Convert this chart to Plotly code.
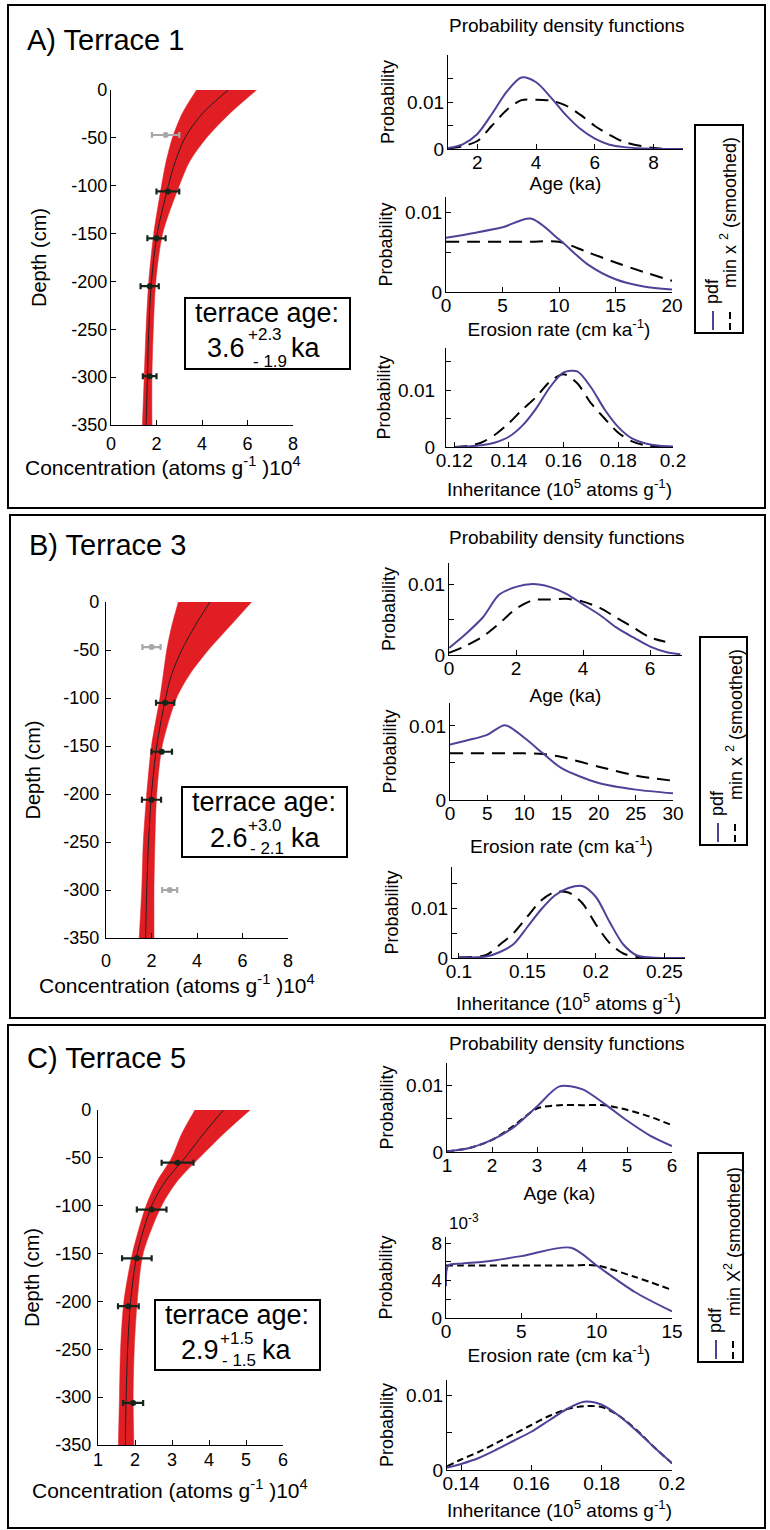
import plotly.graph_objects as go

W, H = 770, 1530
FONT = "Liberation Sans, Arial, Helvetica, sans-serif"
PURPLE = "#4c4398"
RED = "#e01e24"

# ---------------- depth profiles (concentration in 10^4 atoms/g) ----------------
model_depth = [0, -25, -50, -75, -100, -150, -200, -250, -300, -350]

a_model = [5.15, 4.0, 3.25, 2.82, 2.52, 2.03, 1.78, 1.66, 1.6, 1.54]
a_band_low = [3.76, 3.12, 2.7, 2.42, 2.22, 1.88, 1.66, 1.54, 1.46, 1.38]
a_band_high = [6.4, 5.2, 4.2, 3.45, 3.0, 2.27, 1.97, 1.86, 1.8, 1.8]
a_obs_depth = [-47, -106, -155, -205, -299]
a_obs_conc = [2.4, 2.5, 2.0, 1.7, 1.7]
a_obs_err = [0.6, 0.5, 0.4, 0.4, 0.3]
a_obs_used = [0, 1, 1, 1, 1]

b_model = [4.57, 3.91, 3.33, 2.89, 2.62, 2.23, 2.0, 1.87, 1.79, 1.74]
b_band_low = [3.18, 2.89, 2.67, 2.52, 2.37, 2.0, 1.79, 1.64, 1.57, 1.46]
b_band_high = [6.4, 5.45, 4.5, 3.69, 3.1, 2.47, 2.23, 2.15, 2.11, 2.11]
b_obs_depth = [-47, -105, -156, -206, -300]
b_obs_conc = [2.0, 2.6, 2.45, 2.0, 2.8]
b_obs_err = [0.4, 0.4, 0.45, 0.42, 0.33]
b_obs_used = [0, 1, 1, 1, 0]

c_model = [4.39, 3.85, 3.35, 2.81, 2.45, 2.06, 1.88, 1.8, 1.76, 1.74]
c_band_low = [3.62, 3.26, 2.99, 2.59, 2.3, 1.93, 1.7, 1.61, 1.58, 1.55]
c_band_high = [5.11, 4.39, 3.74, 3.13, 2.72, 2.22, 2.06, 1.98, 1.95, 1.97]
c_obs_depth = [-55, -104, -155, -205, -306]
c_obs_conc = [3.15, 2.45, 2.05, 1.82, 1.95]
c_obs_err = [0.43, 0.4, 0.4, 0.28, 0.27]
c_obs_used = [1, 1, 1, 1, 1]

# ---------------- probability density functions ----------------
a_age_x = [1, 1.5, 2, 2.5, 3, 3.5, 4, 4.5, 5, 5.5, 6, 6.5, 7, 8, 9]
a_age_pdf = [0.0002, 0.001, 0.0032, 0.0075, 0.0122, 0.0152, 0.0142, 0.011, 0.0073, 0.0043, 0.0022, 0.0009, 0.0004, 0.00005, 0]
a_age_chi = [0.0001, 0.0006, 0.0017, 0.005, 0.0083, 0.0104, 0.0105, 0.0103, 0.0093, 0.0073, 0.0049, 0.003, 0.0015, 0.0002, 0]

a_ero_x = [0, 2.5, 5, 7.5, 10, 12.5, 15, 17.5, 20]
a_ero_pdf = [0.0068, 0.0074, 0.0081, 0.0092, 0.0066, 0.0035, 0.0016, 0.0007, 0.0003]
a_ero_chi = [0.0063, 0.0063, 0.0063, 0.0063, 0.0063, 0.005, 0.0037, 0.0025, 0.0014]

a_inh_x = [0.12, 0.125, 0.13, 0.135, 0.14, 0.145, 0.15, 0.155, 0.16, 0.165, 0.17, 0.175, 0.18, 0.185, 0.19, 0.195, 0.2]
a_inh_pdf = [0, 0.0001, 0.0003, 0.0008, 0.0018, 0.0038, 0.0068, 0.0105, 0.0131, 0.0133, 0.0105, 0.0066, 0.0035, 0.0015, 0.0006, 0.0002, 0.0001]
a_inh_chi = [0, 0.0002, 0.0008, 0.0022, 0.0042, 0.0066, 0.0088, 0.0115, 0.0128, 0.0112, 0.0077, 0.005, 0.0025, 0.001, 0.0003, 0.0001, 0]

b_age_x = [0, 0.5, 1, 1.5, 2, 2.5, 3, 3.5, 4, 4.5, 5, 5.5, 6, 6.5, 6.9]
b_age_pdf = [0.001, 0.003, 0.0053, 0.0086, 0.0097, 0.0101, 0.0097, 0.0087, 0.0072, 0.0057, 0.0039, 0.0025, 0.0012, 0.0004, 0.0001]
b_age_chi_x = [0, 0.5, 1, 1.5, 2, 2.5, 3, 3.5, 4, 4.5, 5, 5.5, 6, 6.45]
b_age_chi = [0.0003, 0.0013, 0.0026, 0.0045, 0.0066, 0.0078, 0.0079, 0.008, 0.0076, 0.0067, 0.0053, 0.0039, 0.0025, 0.0019]

b_ero_x = [0, 2.5, 5, 7.4, 10, 12.5, 15, 20, 25, 30]
b_ero_pdf = [0.0075, 0.0081, 0.0088, 0.0101, 0.0084, 0.0063, 0.0043, 0.0023, 0.0014, 0.0009]
b_ero_chi = [0.0063, 0.0063, 0.0063, 0.0063, 0.0063, 0.0062, 0.0058, 0.0045, 0.0033, 0.0026]

b_inh_x = [0.1, 0.12, 0.13, 0.14, 0.15, 0.16, 0.17, 0.18, 0.19, 0.2, 0.21, 0.22, 0.23, 0.24, 0.265]
b_inh_pdf = [0.0001, 0.0003, 0.0012, 0.0028, 0.0062, 0.0097, 0.0125, 0.014, 0.0144, 0.0122, 0.0072, 0.0027, 0.0005, 0.0001, 0]
b_inh_chi = [0.0001, 0.0006, 0.0027, 0.005, 0.0083, 0.0115, 0.0132, 0.0131, 0.011, 0.0067, 0.003, 0.0009, 0.0002, 0, 0]

c_age_x = [1, 1.5, 2, 2.5, 3, 3.5, 4, 4.5, 5, 5.5, 6]
c_age_pdf = [0.0001, 0.0006, 0.0018, 0.0038, 0.0068, 0.0098, 0.0094, 0.0072, 0.0047, 0.0025, 0.0009]
c_age_chi = [0.0001, 0.0006, 0.0018, 0.004, 0.0065, 0.007, 0.007, 0.007, 0.0063, 0.0053, 0.004]

c_ero_x = [0, 0.15, 1, 2.5, 5, 8.3, 10, 12.5, 15]
c_ero_pdf = [3.4, 5.6, 5.8, 6.0, 6.6, 7.5, 5.6, 2.8, 0.7]      # x 10^-3
c_ero_chi = [5.6, 5.6, 5.6, 5.6, 5.6, 5.6, 5.6, 4.4, 3.0]      # x 10^-3

c_inh_x = [0.136, 0.14, 0.145, 0.15, 0.155, 0.16, 0.165, 0.17, 0.175, 0.18, 0.185, 0.19, 0.195, 0.2]
c_inh_pdf = [0.0003, 0.0008, 0.0016, 0.0027, 0.0039, 0.0051, 0.0066, 0.0081, 0.0091, 0.0087, 0.0072, 0.0052, 0.003, 0.0009]
c_inh_chi = [0.0005, 0.0014, 0.0024, 0.0036, 0.0048, 0.006, 0.0072, 0.0081, 0.0085, 0.0084, 0.0072, 0.0053, 0.003, 0.0009]

panel_titles = ["A) Terrace 1", "B) Terrace 3", "C) Terrace 5"]
ages = [("3.6", "+2.3", "- 1.9"), ("2.6", "+3.0", "- 2.1"), ("2.9", "+1.5", "- 1.5")]

prob_ticks = [0, 0.01]
prob_ticktext = ["0", "0.01"]
prob_minor = [0.005, 0.015]


def px(x):
    return x / W


def py(y):
    return 1 - y / H


fig = go.Figure()
layout = {}
annotations = []
shapes = []
counter = [0]


def base_axis(size):
    return dict(showline=True, linecolor="black", linewidth=1.3, mirror=False,
                ticks="inside", ticklen=5, tickcolor="black", tickwidth=1.2,
                showgrid=False, zeroline=False, fixedrange=True, automargin=False,
                tickfont=dict(family=FONT, size=size, color="black"))


def add_axes(xdom, ydom, xrange, yrange, xt, xtt, yt, ytt, yminor=None,
             xtitle=None, xso=5, ytitle=None, yso=5, xlso=-4, ylso=-1,
             xtsize=19, ytsize=18, tsize=19):
    counter[0] += 1
    k = "" if counter[0] == 1 else str(counter[0])
    xa = base_axis(tsize)
    xa.update(domain=[px(xdom[0]), px(xdom[1])], range=xrange, anchor="y" + k,
              tickmode="array", tickvals=xt, ticktext=xtt, ticklabelstandoff=xlso)
    ya = base_axis(tsize)
    ya.update(domain=[py(ydom[1]), py(ydom[0])], range=yrange, anchor="x" + k,
              tickmode="array", tickvals=yt, ticktext=ytt, ticklabelstandoff=ylso)
    if yminor:
        ya["minor"] = dict(tickmode="array", tickvals=yminor, ticks="inside", ticklen=5,
                           tickcolor="black", tickwidth=1.2, showgrid=False)
    if xtitle:
        xa["title"] = dict(text=xtitle, standoff=xso, font=dict(family=FONT, size=xtsize, color="black"))
    if ytitle:
        ya["title"] = dict(text=ytitle, standoff=yso, font=dict(family=FONT, size=ytsize, color="black"))
    layout["xaxis" + k] = xa
    layout["yaxis" + k] = ya
    return "x" + k, "y" + k


def ann(x, y, text, size, xanchor="center", yanchor="middle", angle=0):
    annotations.append(dict(x=px(x), y=py(y), xref="paper", yref="paper", text=text,
                            showarrow=False, xanchor=xanchor, yanchor=yanchor,
                            textangle=angle, font=dict(family=FONT, size=size, color="black")))


def rect(x0, y0, x1, y1, width=2):
    shapes.append(dict(type="rect", xref="paper", yref="paper", x0=px(x0), x1=px(x1),
                       y0=py(y1), y1=py(y0), line=dict(color="black", width=width),
                       fillcolor="rgba(0,0,0,0)"))


def profile(xa, ya, low, high, model, od, oc, oe, used):
    fig.add_trace(go.Scatter(x=low, y=model_depth, xaxis=xa, yaxis=ya, mode="lines",
                             line=dict(color=RED, width=0.5, shape="spline", smoothing=0.8),
                             showlegend=False, hoverinfo="skip"))
    fig.add_trace(go.Scatter(x=high, y=model_depth, xaxis=xa, yaxis=ya, mode="lines",
                             fill="tonextx", fillcolor=RED,
                             line=dict(color=RED, width=0.5, shape="spline", smoothing=0.8),
                             showlegend=False, hoverinfo="skip"))
    fig.add_trace(go.Scatter(x=model, y=model_depth, xaxis=xa, yaxis=ya, mode="lines",
                             line=dict(color="#202020", width=1, shape="spline", smoothing=0.8),
                             showlegend=False))
    for flag, col in ((0, "#a8a8a8"), (1, "#14261a")):
        xs = [c for c, u in zip(oc, used) if u == flag]
        ys = [d for d, u in zip(od, used) if u == flag]
        es = [e for e, u in zip(oe, used) if u == flag]
        if xs:
            fig.add_trace(go.Scatter(x=xs, y=ys, xaxis=xa, yaxis=ya, mode="markers",
                                     marker=dict(color=col, size=6),
                                     error_x=dict(type="data", array=es, color=col,
                                                  thickness=2.2, width=3),
                                     showlegend=False))


def pdfplot(xa, ya, x, pdf, chi, chix=None, dash="13px,8px"):
    fig.add_trace(go.Scatter(x=chix if chix is not None else x, y=chi, xaxis=xa, yaxis=ya,
                             mode="lines", name="min chi2 (smoothed)",
                             line=dict(color="black", width=2, dash=dash, shape="spline", smoothing=0.8),
                             showlegend=False))
    fig.add_trace(go.Scatter(x=x, y=pdf, xaxis=xa, yaxis=ya, mode="lines", name="pdf",
                             line=dict(color=PURPLE, width=2, shape="spline", smoothing=0.8),
                             showlegend=False))


def legend_box(x0, y0, x1, y1, chi_text):
    rect(x0, y0, x1, y1, 2)
    c1, c2 = x0 + 18, x0 + 35
    shapes.append(dict(type="line", xref="paper", yref="paper", x0=px(c1), x1=px(c1),
                       y0=py(y1 - 3), y1=py(y1 - 22), line=dict(color=PURPLE, width=2)))
    for s0, s1 in ((y1 - 3, y1 - 10), (y1 - 14, y1 - 21)):
        shapes.append(dict(type="line", xref="paper", yref="paper", x0=px(c2), x1=px(c2),
                           y0=py(s0), y1=py(s1), line=dict(color="black", width=2)))
    ann(c1 - 1, y1 - 42, "pdf", 18, angle=-90)
    ann(c2 - 1, y1 - 120, chi_text, 18, angle=-90)


conc_title = "Concentration (atoms g<sup>-1</sup> )10<sup>4</sup>"
ero_title = "Erosion rate (cm ka<sup>-1</sup>)"
inh_title = "Inheritance (10<sup>5</sup> atoms g<sup>-1</sup>)"
depth_t = [0, -50, -100, -150, -200, -250, -300, -350]
depth_tt = [str(v) for v in depth_t]
PT, PTT, PM = prob_ticks, prob_ticktext, prob_minor

# ---------------- Panel A ----------------
xa, ya = add_axes((111, 293), (90, 425), [0, 8], [-350, 0], [0, 2, 4, 6, 8],
                  ["0", "2", "4", "6", "8"], depth_t, depth_tt,
                  ytitle="Depth (cm)", yso=19, xlso=2, ylso=-1, ytsize=20, tsize=18)
profile(xa, ya, a_band_low, a_band_high, a_model, a_obs_depth, a_obs_conc, a_obs_err, a_obs_used)

xa, ya = add_axes((448, 683), (55, 149), [1, 9], [0, 0.02], [2, 4, 6, 8], ["2", "4", "6", "8"],
                  PT, PTT, PM, xtitle="Age (ka)", xso=1, ytitle="Probability", yso=7)
pdfplot(xa, ya, a_age_x, a_age_pdf, a_age_chi)
xa, ya = add_axes((446, 672), (197, 292), [0, 20], [0, 0.0119], [0, 5, 10, 15, 20],
                  ["0", "5", "10", "15", "20"], PT, PTT, PM, xtitle=ero_title, xso=6,
                  ytitle="Probability", yso=7)
pdfplot(xa, ya, a_ero_x, a_ero_pdf, a_ero_chi)
xa, ya = add_axes((446, 673), (348, 447), [0.117, 0.2], [0, 0.0174],
                  [0.12, 0.14, 0.16, 0.18, 0.2], ["0.12", "0.14", "0.16", "0.18", "0.2"],
                  PT, PTT, PM, xtitle=inh_title, xso=12, ytitle="Probability", yso=2,
                  ylso=6)
pdfplot(xa, ya, a_inh_x, a_inh_pdf, a_inh_chi)

# ---------------- Panel B ----------------
xa, ya = add_axes((106, 288), (602, 938), [0, 8], [-350, 0], [0, 2, 4, 6, 8],
                  ["0", "2", "4", "6", "8"], depth_t, depth_tt,
                  ytitle="Depth (cm)", yso=17, xlso=6, ylso=2, ytsize=20, tsize=18)
profile(xa, ya, b_band_low, b_band_high, b_model, b_obs_depth, b_obs_conc, b_obs_err, b_obs_used)

xa, ya = add_axes((449, 682), (563, 655), [0, 6.95], [0, 0.0131], [0, 2, 4, 6],
                  ["0", "2", "4", "6"], PT, PTT, PM, xtitle="Age (ka)", xso=10,
                  ytitle="Probability", yso=7)
pdfplot(xa, ya, b_age_x, b_age_pdf, b_age_chi, chix=b_age_chi_x)
xa, ya = add_axes((450, 673), (703, 800), [0, 30], [0, 0.0131], [0, 5, 10, 15, 20, 25, 30],
                  ["0", "5", "10", "15", "20", "25", "30"], PT, PTT, PM,
                  xtitle=ero_title, xso=16, ytitle="Probability", yso=7)
pdfplot(xa, ya, b_ero_x, b_ero_pdf, b_ero_chi)
xa, ya = add_axes((452, 685), (867, 958), [0.095, 0.265], [0, 0.0182],
                  [0.1, 0.15, 0.2, 0.25], ["0.1", "0.15", "0.2", "0.25"], PT, PTT, PM,
                  xtitle=inh_title, xso=15, ytitle="Probability", yso=7)
pdfplot(xa, ya, b_inh_x, b_inh_pdf, b_inh_chi)

# ---------------- Panel C ----------------
xa, ya = add_axes((98, 283), (1110, 1445), [1, 6], [-350, 0], [1, 2, 3, 4, 5, 6],
                  ["1", "2", "3", "4", "5", "6"], depth_t, depth_tt,
                  ytitle="Depth (cm)", yso=10, xlso=-2, ylso=2, ytsize=20, tsize=18)
profile(xa, ya, c_band_low, c_band_high, c_model, c_obs_depth, c_obs_conc, c_obs_err, c_obs_used)

xa, ya = add_axes((447, 672), (1063, 1152), [1, 6], [0, 0.0133], [1, 2, 3, 4, 5, 6],
                  ["1", "2", "3", "4", "5", "6"], PT, PTT, PM, xtitle="Age (ka)", xso=11,
                  ytitle="Probability", yso=7)
pdfplot(xa, ya, c_age_x, c_age_pdf, c_age_chi, dash="7px,4px")
xa, ya = add_axes((446, 672), (1237, 1318), [0, 15], [0, 8.64], [0, 5, 10, 15],
                  ["0", "5", "10", "15"], [0, 4, 8], ["0", "4", "8"], [2, 6],
                  xtitle=ero_title, xso=7, ytitle="Probability", yso=34)
pdfplot(xa, ya, c_ero_x, c_ero_pdf, c_ero_chi, dash="7px,4px")
xa, ya = add_axes((447, 672), (1380, 1470), [0.136, 0.2], [0, 0.012],
                  [0.14, 0.16, 0.18, 0.2], ["0.14", "0.16", "0.18", "0.2"], PT, PTT, PM,
                  xtitle=inh_title, xso=10, ytitle="Probability", yso=7)
pdfplot(xa, ya, c_inh_x, c_inh_pdf, c_inh_chi, dash="7px,4px")

# ---------------- frames, titles, boxes ----------------
rect(8, 5, 765, 508, 2)
rect(10, 515, 765, 1018, 2)
rect(8, 1025, 765, 1528, 2)

ann(25, 40, panel_titles[0], 29, xanchor="left")
ann(27, 545, panel_titles[1], 29, xanchor="left")
ann(25, 1058, panel_titles[2], 29, xanchor="left")

for yy in (25, 537, 1043):
    ann(567, yy, "Probability density functions", 19)

ann(163, 466, conc_title, 21)
ann(177, 984, conc_title, 21)
ann(170, 1489, conc_title, 21)

# terrace age boxes
age_boxes = [
    dict(box=(185, 298, 350, 369), cx=267, ty=313, num=(226, 348), sup=(265, 334), sub=(270, 361), ka=(306, 348)),
    dict(box=(182, 787, 347, 857), cx=264, ty=802, num=(229, 838), sup=(265, 825), sub=(267, 848), ka=(306, 838)),
    dict(box=(155, 1300, 320, 1370), cx=237, ty=1315, num=(200, 1350), sup=(237, 1338), sub=(239, 1360), ka=(277, 1350)),
]
for (num, up, dn), b in zip(ages, age_boxes):
    rect(*b["box"], width=2)
    ann(b["cx"], b["ty"], "terrace age:", 27)
    ann(b["num"][0], b["num"][1], num, 27)
    ann(b["sup"][0], b["sup"][1], up, 17)
    ann(b["sub"][0], b["sub"][1], dn, 17)
    ann(b["ka"][0], b["ka"][1], "ka", 27)

legend_box(695, 125, 743, 333, "min x <sup>2</sup> (smoothed)")
legend_box(700, 637, 747, 845, "min x <sup>2</sup> (smoothed)")
legend_box(698, 1153, 743, 1362, "min X<sup>2</sup> (smoothed)")

ann(464, 1222, "10<sup>-3</sup>", 17)

layout.update(template="none", width=W, height=H, margin=dict(l=0, r=0, t=0, b=0, autoexpand=False),
              paper_bgcolor="white", plot_bgcolor="white", showlegend=False,
              annotations=annotations, shapes=shapes, font=dict(family=FONT, color="black"))
fig.update_layout(**layout)
fig.write_html("out.html", config={"displayModeBar": False})
